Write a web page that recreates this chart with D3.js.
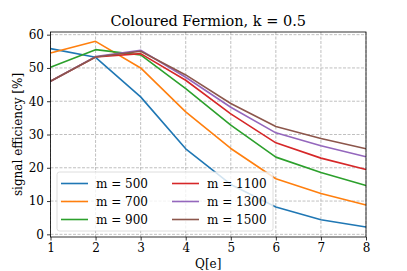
<!DOCTYPE html>
<html>
<head>
<meta charset="utf-8">
<script src="https://cdn.jsdelivr.net/npm/d3@7"></script>
<style>
  body { margin: 0; background: #fff; }
  svg text { font-family: "DejaVu Serif", serif; fill: #000; }
</style>
</head>
<body>
<div id="chart"></div>
<script>
// charge values on the x axis
const charges = [1, 2, 3, 4, 5, 6, 7, 8];
const masses = [500, 700, 900, 1100, 1300, 1500];
const colors = ['#1f77b4', '#ff7f0e', '#2ca02c', '#d62728', '#9467bd', '#8c564b'];

// signal efficiency [%] per mass
const eff500 = [55.8, 53.2, 41.3, 25.7, 15.0, 8.2, 4.4, 2.2];
const eff700 = [54.5, 58.0, 50.0, 36.8, 25.8, 16.7, 12.3, 8.8];
const eff900 = [50.2, 55.5, 53.9, 43.8, 32.8, 23.2, 18.6, 14.7];
const eff1100 = [46.0, 53.3, 54.3, 46.3, 36.2, 27.5, 22.9, 19.5];
const eff1300 = [46.0, 53.4, 55.3, 47.2, 38.2, 30.5, 26.6, 23.3];
const eff1500 = [46.0, 53.3, 55.0, 47.9, 39.3, 32.4, 28.8, 25.7];
const series = [eff500, eff700, eff900, eff1100, eff1300, eff1500];

const yTicks = [0, 10, 20, 30, 40, 50, 60];

const width = 407, height = 271;
const margin = { top: 32, right: 41, bottom: 34, left: 50.5 };

const svg = d3.select('#chart').append('svg')
    .attr('width', width)
    .attr('height', height);

const x = d3.scaleLinear()
    .domain([1, 8])
    .range([margin.left, width - margin.right]);

const y = d3.scaleLinear()
    .domain([-0.8, 60.8])
    .range([height - margin.bottom, margin.top]);

// grid
const grid = svg.append('g').attr('class', 'grid');
grid.selectAll('line.gx')
    .data(charges)
    .join('line')
    .attr('class', 'gx')
    .attr('x1', d => x(d)).attr('x2', d => x(d))
    .attr('y1', margin.top).attr('y2', height - margin.bottom)
    .attr('stroke', '#b0b0b0')
    .attr('stroke-width', 0.8)
    .attr('stroke-dasharray', '3,1.5');
grid.selectAll('line.gy')
    .data(yTicks)
    .join('line')
    .attr('class', 'gy')
    .attr('x1', margin.left).attr('x2', width - margin.right)
    .attr('y1', d => y(d)).attr('y2', d => y(d))
    .attr('stroke', '#b0b0b0')
    .attr('stroke-width', 0.8)
    .attr('stroke-dasharray', '3,1.5');

// lines
const line = d3.line()
    .x((d, i) => x(charges[i]))
    .y(d => y(d));

svg.append('g').selectAll('path')
    .data(series)
    .join('path')
    .attr('d', d => line(d))
    .attr('fill', 'none')
    .attr('stroke', (d, i) => colors[i])
    .attr('stroke-width', 1.6)
    .attr('stroke-linejoin', 'round');

// axes
const xAxis = svg.append('g')
    .attr('transform', `translate(0,${height - margin.bottom})`)
    .call(d3.axisBottom(x).tickValues(charges).tickFormat(d3.format('d')).tickSize(3.5).tickPadding(3));
const yAxis = svg.append('g')
    .attr('transform', `translate(${margin.left},0)`)
    .call(d3.axisLeft(y).tickValues(yTicks).tickSize(3.5).tickPadding(3));

[xAxis, yAxis].forEach(a => {
    a.select('.domain').remove();
    a.selectAll('text').attr('font-size', 12).attr('font-family', '"DejaVu Serif", serif');
    a.selectAll('line').attr('stroke', '#000').attr('stroke-width', 0.8);
});

// frame
svg.append('rect')
    .attr('x', margin.left)
    .attr('y', margin.top)
    .attr('width', width - margin.left - margin.right)
    .attr('height', height - margin.top - margin.bottom)
    .attr('fill', 'none')
    .attr('stroke', '#000')
    .attr('stroke-width', 0.8);

// legend
const legend = svg.append('g').attr('transform', 'translate(57,172)');
legend.append('rect')
    .attr('width', 216)
    .attr('height', 59)
    .attr('rx', 2.5)
    .attr('fill', 'rgba(255,255,255,0.8)')
    .attr('stroke', '#d6d6d6')
    .attr('stroke-width', 0.8);

const items = legend.selectAll('g.item')
    .data(masses)
    .join('g')
    .attr('class', 'item')
    .attr('transform', (d, i) => `translate(${i < 3 ? 4 : 115},${11.5 + (i % 3) * 18})`);
items.append('line')
    .attr('x1', 0).attr('x2', 27)
    .attr('stroke', (d, i) => colors[i])
    .attr('stroke-width', 1.6);
items.append('text')
    .attr('x', 35)
    .attr('dy', '0.35em')
    .attr('font-size', 12)
    .text(d => `m = ${d}`);

// title and labels
svg.append('text')
    .attr('x', (margin.left + width - margin.right) / 2)
    .attr('y', 26)
    .attr('text-anchor', 'middle')
    .attr('font-size', 14.5)
    .text('Coloured Fermion, k = 0.5');

svg.append('text')
    .attr('x', (margin.left + width - margin.right) / 2)
    .attr('y', 268)
    .attr('text-anchor', 'middle')
    .attr('font-size', 12)
    .text('Q[e]');

svg.append('text')
    .attr('transform', `translate(22,${(margin.top + height - margin.bottom) / 2}) rotate(-90)`)
    .attr('text-anchor', 'middle')
    .attr('font-size', 12)
    .text('signal efficiency [%]');
</script>
</body>
</html>
